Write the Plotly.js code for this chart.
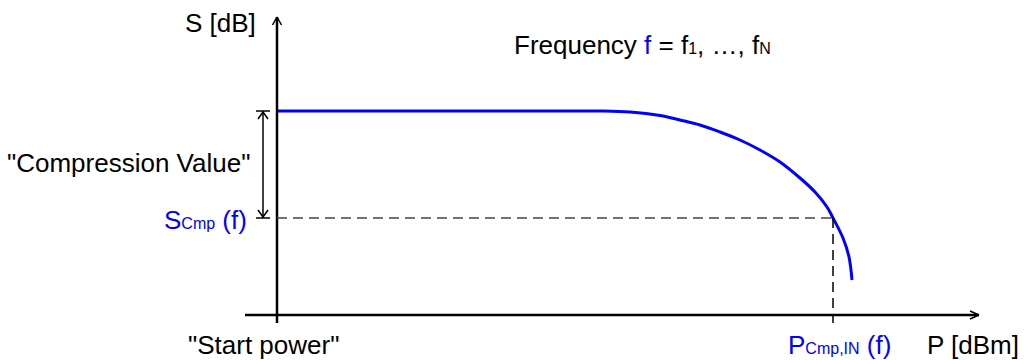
<!DOCTYPE html>
<html>
<head>
<meta charset="utf-8">
<script src="https://cdn.plot.ly/plotly-3.0.1.min.js"></script>
<style>html,body{margin:0;padding:0;background:#fff;}#chart{width:1027px;height:360px;}</style>
</head>
<body>
<div id="chart"></div>
<script>
// Schematic compression curve (arbitrary units: P along x, S along y, origin at axis crossing)
const power = [0, 300, 323, 353, 383, 403, 423, 443, 463, 483, 503, 523, 538, 550, 556, 566, 572, 575];
const gain  = [204, 204, 204, 203, 199.5, 195, 190, 183, 175, 165, 153, 137, 123, 108, 97, 77, 58, 35];
const pCmp = 556;   // P_Cmp,IN(f)
const sCmp = 97;    // S_Cmp(f)
const sStart = 204; // level at start power

const BLUE = '#0000ff';
const FONT = '"Liberation Sans", Arial, sans-serif';

const xAxisFrom = -32, xAxisTo = 702;
const yAxisFrom = -8, yAxisTo = 298;
const arrowX = -14;

const shapes = [];
function line(x0, y0, x1, y1, color, width, dash) {
  shapes.push({type: 'line', xref: 'x', yref: 'y', x0, y0, x1, y1,
    line: {color, width, dash: dash || 'solid'}, layer: 'above'});
}
// axes
line(xAxisFrom, 0, xAxisTo, 0, '#000', 2.5);
line(0, yAxisFrom, 0, yAxisTo, '#000', 2.5);
// axis arrowheads (open chevrons)
line(-4.5, yAxisTo - 8, 0, yAxisTo, '#000', 1.5);
line(4.5, yAxisTo - 8, 0, yAxisTo, '#000', 1.5);
line(xAxisTo - 9, 4, xAxisTo, 0, '#000', 1.5);
line(xAxisTo - 9, -4, xAxisTo, 0, '#000', 1.5);
// dashed guides
line(0, sCmp, pCmp, sCmp, '#444', 1.5, '10px,6px');
line(pCmp, sCmp, pCmp, yAxisFrom, '#000', 1.5, '10px,6px');
// compression value double arrow
line(arrowX, sStart, arrowX, sCmp, '#000', 1.5);
line(arrowX - 7, sStart, arrowX + 7, sStart, '#000', 1.5);
line(arrowX - 7, sCmp, arrowX + 7, sCmp, '#000', 1.5);
line(arrowX - 5, sStart - 8, arrowX, sStart - 1, '#000', 1.5);
line(arrowX + 5, sStart - 8, arrowX, sStart - 1, '#000', 1.5);
line(arrowX - 5, sCmp + 8, arrowX, sCmp + 1, '#000', 1.5);
line(arrowX + 5, sCmp + 8, arrowX, sCmp + 1, '#000', 1.5);

function ann(text, x, y, xanchor, color) {
  return {text, x, y, xref: 'x', yref: 'y', xanchor, yanchor: 'middle',
    showarrow: false, font: {family: FONT, size: 26, color: color || '#000'}};
}
const sub = t => '<span style="font-size:16px">' + t + '</span>';
const annotations = [
  ann('S [dB]', -19, 292, 'right'),
  ann('Frequency <span style="color:' + BLUE + '">f</span> = f' + sub('1') + ', …, f' + sub('N'), 235, 270, 'left'),
  ann('"Compression Value"', -25, 152, 'right'),
  ann('S' + sub('Cmp') + ' (f)', -28, 95, 'right', BLUE),
  ann('"Start power"', -91, -30, 'left'),
  ann('P' + sub('Cmp,IN') + ' (f)', 509, -30, 'left', BLUE),
  ann('P [dBm]', 648, -30, 'left')
];

const trace = {x: power, y: gain, type: 'scatter', mode: 'lines',
  line: {color: BLUE, width: 3, shape: 'spline', smoothing: 1}, hoverinfo: 'skip'};

const layout = {
  width: 1027, height: 360,
  margin: {l: 0, r: 0, t: 0, b: 0},
  paper_bgcolor: '#fff', plot_bgcolor: '#fff',
  showlegend: false,
  xaxis: {range: [-277, 750], visible: false, fixedrange: true},
  yaxis: {range: [-45, 315], visible: false, fixedrange: true},
  shapes, annotations
};
Plotly.newPlot('chart', [trace], layout, {staticPlot: true, displayModeBar: false});
</script>
</body>
</html>
